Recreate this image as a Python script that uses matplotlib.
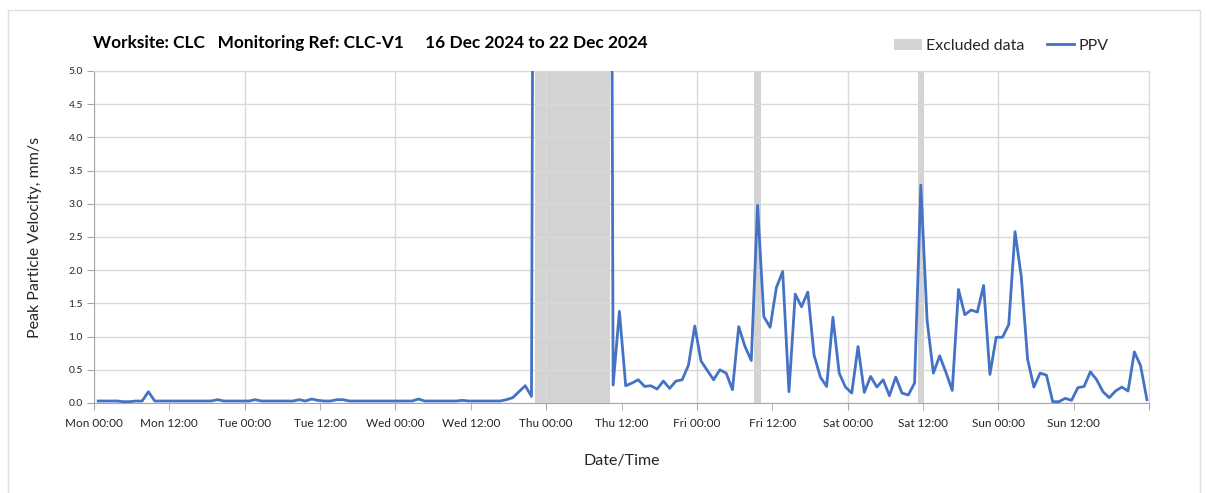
import numpy as np
import pandas as pd
import matplotlib
matplotlib.use('Agg')
import matplotlib.pyplot as plt
import matplotlib.dates as mdates
from matplotlib.patches import Rectangle

# hourly readings, 16 Dec 2024 00:40 onwards
times = pd.date_range('2024-12-16 00:40', periods=168, freq='h')

ppv = [
    # Mon
    0.03, 0.03, 0.03, 0.03, 0.02, 0.02, 0.03, 0.03, 0.17, 0.03, 0.03, 0.03,
    0.03, 0.03, 0.03, 0.03, 0.03, 0.03, 0.03, 0.05, 0.03, 0.03, 0.03, 0.03,
    # Tue
    0.03, 0.05, 0.03, 0.03, 0.03, 0.03, 0.03, 0.03, 0.05, 0.03, 0.06, 0.04,
    0.03, 0.03, 0.05, 0.05, 0.03, 0.03, 0.03, 0.03, 0.03, 0.03, 0.03, 0.03,
    # Wed
    0.03, 0.03, 0.03, 0.06, 0.03, 0.03, 0.03, 0.03, 0.03, 0.03, 0.04, 0.03,
    0.03, 0.03, 0.03, 0.03, 0.03, 0.05, 0.08, 0.17, 0.26, 0.10, 30.0, 30.0,
    # Thu
    30.0, 30.0, 30.0, 30.0, 30.0, 30.0, 30.0, 30.0, 30.0, 30.0, 0.27, 1.38,
    0.26, 0.30, 0.35, 0.25, 0.26, 0.21, 0.33, 0.22, 0.33, 0.35, 0.57, 1.16,
    # Fri
    0.63, 0.49, 0.35, 0.50, 0.45, 0.20, 1.15, 0.85, 0.64, 2.98, 1.30, 1.14,
    1.74, 1.98, 0.17, 1.64, 1.45, 1.67, 0.72, 0.39, 0.25, 1.29, 0.45, 0.24,
    # Sat
    0.15, 0.85, 0.16, 0.40, 0.24, 0.35, 0.11, 0.39, 0.15, 0.12, 0.30, 3.28,
    1.24, 0.45, 0.71, 0.46, 0.19, 1.71, 1.33, 1.40, 1.37, 1.77, 0.43, 0.99,
    # Sun
    0.99, 1.18, 2.58, 1.90, 0.66, 0.24, 0.45, 0.42, 0.02, 0.02, 0.07, 0.04,
    0.23, 0.25, 0.47, 0.35, 0.17, 0.08, 0.18, 0.24, 0.18, 0.77, 0.56, 0.05,
]

excluded_idx = list(range(70, 82)) + [105, 131]
y_max = 5.0

blue = '#4472C4'
grey_bar = '#D3D3D3'
grid_col = '#D9D9D9'
txt = '#262626'

plt.rcParams['font.family'] = ['Lato', 'DejaVu Sans']

fig = plt.figure(figsize=(12.07, 4.93), dpi=100)
fig.patches.append(Rectangle((8 / 1207, -0.01), 1192 / 1207, 1 - 10 / 493 + 0.01,
                             transform=fig.transFigure, fill=False,
                             edgecolor='#E0E0E0', linewidth=1))
ax = fig.add_axes([94 / 1207, 1 - 403 / 493, 1055 / 1207, 332 / 493])

ex_times = times[excluded_idx]
bars = ax.bar(ex_times, [y_max] * len(ex_times), width=1 / 24, color=grey_bar,
              linewidth=0, label='Excluded data', zorder=1)
line, = ax.plot(times, ppv, color=blue, linewidth=2.0, label='PPV', zorder=3)

ax.set_ylim(0, y_max)
ax.set_yticks(np.arange(0, 5.01, 0.5))
ax.yaxis.set_major_formatter(matplotlib.ticker.FormatStrFormatter('%.1f'))
x_end = pd.Timestamp('2024-12-23 00:00')
ax.set_xlim(pd.Timestamp('2024-12-16 00:00'), x_end)

ax.xaxis.set_major_locator(mdates.HourLocator(byhour=[0]))
ax.xaxis.set_minor_locator(mdates.HourLocator(byhour=[12]))


def fmt_date(x, pos=None):
    d = mdates.num2date(x)
    if x >= mdates.date2num(x_end) - 1e-6:
        return ''
    return d.strftime('%a %H:%M')


ax.xaxis.set_major_formatter(matplotlib.ticker.FuncFormatter(fmt_date))
ax.xaxis.set_minor_formatter(matplotlib.ticker.FuncFormatter(fmt_date))

ax.grid(axis='y', color=grid_col, linewidth=1)
ax.grid(axis='x', which='major', color=grid_col, linewidth=1)

for s in ['left', 'bottom']:
    ax.spines[s].set_color('#A6A6A6')
for s in ['top', 'right']:
    ax.spines[s].set_color(grid_col)

ax.tick_params(axis='y', length=5, color='#A6A6A6', labelsize=7.5, labelcolor=txt, pad=3)
ax.tick_params(axis='x', which='both', length=5, color='#A6A6A6', labelsize=8.5,
               labelcolor=txt, pad=6)

ax.set_ylabel('Peak Particle Velocity, mm/s', fontsize=11.5, color=txt, labelpad=19)
ax.set_xlabel('Date/Time', fontsize=11.5, color=txt, labelpad=18)

fig.text(93 / 1207, 1 - 43 / 493,
         'Worksite: CLC   Monitoring Ref: CLC-V1     16 Dec 2024 to 22 Dec 2024',
         fontsize=12.4, fontweight='bold', color='black', va='center', ha='left')

ax.legend([bars, line], ['Excluded data', 'PPV'],
          loc='center left', bbox_to_anchor=(880 / 1207, 1 - 46 / 493),
          bbox_transform=fig.transFigure, ncol=2, frameon=False, fontsize=11.5,
          handlelength=1.7, columnspacing=1.4, handletextpad=0.3,
          labelcolor=txt)

fig.savefig('out.png', dpi=100)
